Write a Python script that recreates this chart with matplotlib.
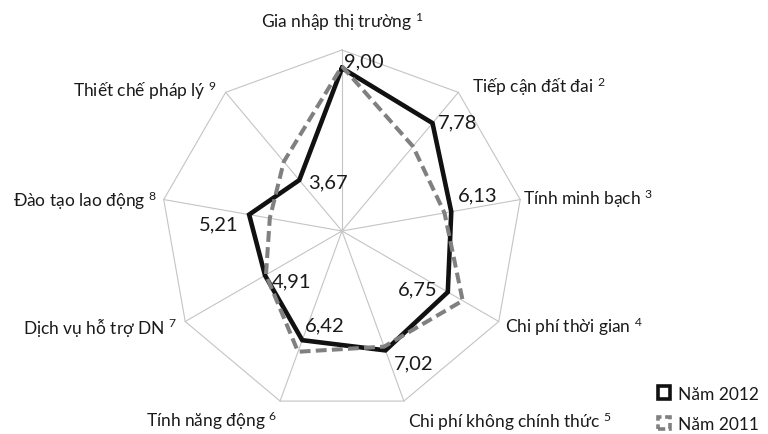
import numpy as np
import matplotlib
matplotlib.use("Agg")
import matplotlib.pyplot as plt
import matplotlib.patches as mpatches

plt.rcParams['font.family'] = ['Lato', 'DejaVu Sans']
plt.rcParams['mathtext.fontset'] = 'custom'
plt.rcParams['mathtext.rm'] = 'Lato'
plt.rcParams['mathtext.it'] = 'Lato'
plt.rcParams['mathtext.bf'] = 'Lato'

# PCI component indices
categories = ["Gia nhập thị trường", "Tiếp cận đất đai", "Tính minh bạch",
              "Chi phí thời gian", "Chi phí không chính thức", "Tính năng động",
              "Dịch vụ hỗ trợ DN", "Đào tạo lao động", "Thiết chế pháp lý"]
score_2012 = [9.00, 7.78, 6.13, 6.75, 7.02, 6.42, 4.91, 5.21, 3.67]
score_2011 = [9.10, 6.10, 5.75, 7.70, 6.80, 7.10, 4.85, 4.05, 5.00]
series_names = ["Năm 2012", "Năm 2011"]
r_max = 10

# label placement: (offset px x, offset px y, horizontal alignment)
cat_pos = [(0, 29, 'center'), (14, 7, 'left'), (3, 2, 'left'),
           (6, -4, 'left'), (4, -20, 'left'), (-3, -19, 'right'),
           (-8, -5, 'right'), (-7, 0, 'right'), (-9, 3, 'right')]
val_pos = [(2, 7, 'left'), (5, 1, 'left'), (7, 17, 'left'),
           (-10, 3, 'right'), (8, -12, 'left'), (3, 15, 'left'),
           (7, -5, 'left'), (-11, -9, 'right'), (9, -2, 'left')]

n = len(categories)
theta = np.deg2rad(np.arange(n) * 360.0 / n)
theta_c = np.append(theta, theta[0])

fig = plt.figure(figsize=(7.68, 4.35), dpi=100)
ax = fig.add_axes([0.2096, 0.0506, 0.4714, 0.8322], projection='polar')
ax.set_theta_zero_location('N')
ax.set_theta_direction(-1)
ax.set_ylim(0, r_max)
ax.grid(False)
ax.set_xticks([])
ax.set_yticks([])
ax.spines['polar'].set_visible(False)
ax.patch.set_visible(False)

grid_c = '#c4c4c4'
ax.plot(theta_c, [r_max] * (n + 1), color=grid_c, lw=0.8, clip_on=False, zorder=1)
for t in theta:
    ax.plot([t, t], [0, r_max], color=grid_c, lw=0.8, clip_on=False, zorder=1)

ax.plot(theta_c, score_2012 + score_2012[:1], color='#111111', lw=3.3,
        solid_joinstyle='miter', clip_on=False, zorder=3)
ax.plot(theta_c, score_2011 + score_2011[:1], color='#808080', lw=2.9,
        dashes=(2.7, 1.3), clip_on=False, zorder=4)

for i, (name, (dx, dy, ha)) in enumerate(zip(categories, cat_pos)):
    ax.annotate(f"{name} $^{{{i + 1}}}$", xy=(theta[i], r_max), xytext=(dx, dy),
                textcoords='offset pixels', ha=ha, va='center',
                fontsize=12.5, color='#1a1a1a', annotation_clip=False)

for i, (v, (dx, dy, ha)) in enumerate(zip(score_2012, val_pos)):
    ax.annotate(f"{v:.2f}".replace('.', ','), xy=(theta[i], v), xytext=(dx, dy),
                textcoords='offset pixels', ha=ha, va='center',
                fontsize=14.5, color='#1a1a1a', annotation_clip=False, zorder=5)

handles = [mpatches.Patch(facecolor='white', edgecolor='#111111', lw=2.6,
                          label=series_names[0]),
           mpatches.Patch(facecolor='white', edgecolor='#808080', lw=2.6,
                          linestyle=(0, (2.0, 1.0)), label=series_names[1])]
fig.legend(handles=handles, loc='lower right', bbox_to_anchor=(1.0, -0.018),
           frameon=False, fontsize=12.5, handlelength=0.7, handleheight=0.7,
           handletextpad=0.45, labelspacing=0.85, borderaxespad=0.15,
           labelcolor='#1a1a1a')

fig.savefig("out.png", dpi=100)
